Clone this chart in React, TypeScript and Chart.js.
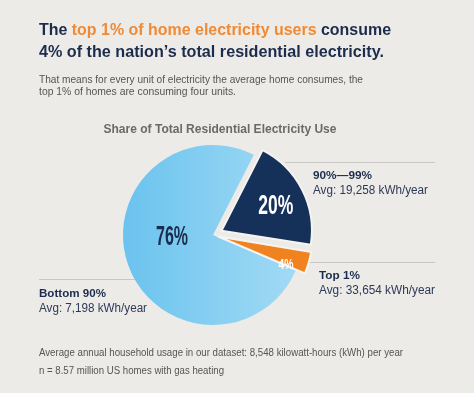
import React, { useEffect, useRef } from 'react';
import { Chart, registerables } from 'chart.js';
Chart.register(...registerables);

// ---- data ----
const categories = ['Bottom 90%', '90%—99%', 'Top 1%'];
const shares = [76, 20, 4];
const averages = ['Avg: 7,198 kWh/year', 'Avg: 19,258 kWh/year', 'Avg: 33,654 kWh/year'];
const pctLabels = ['76%', '20%', '4%'];

const titleLine1 = [
  { t: 'The ', c: 'navy' },
  { t: 'top 1% of home electricity users', c: 'orange' },
  { t: ' consume', c: 'navy' },
];
const titleLine2 = '4% of the nation\u2019s total residential electricity.';
const subtitle = [
  'That means for every unit of electricity the average home consumes, the',
  'top 1% of homes are consuming four units.',
];
const chartTitle = 'Share of Total Residential Electricity Use';
const footnotes = [
  'Average annual household usage in our dataset: 8,548 kilowatt-hours (kWh) per year',
  'n = 8.57 million US homes with gas heating',
];

// ---- styles ----
const BG = '#edebe8';
const NAVY = '#1c2c4d';
const ORANGE = '#ef8a37';
const SLICE_NAVY = '#15315a';
const SLICE_ORANGE = '#f0821f';
const GREY = '#555555';
const FONT = '"Liberation Sans", Arial, sans-serif';
const PIE_R = 90;
// Chart.js shifts an arc by offset/4 * (1 + (1 - sin(circumference)))
const sliceOffsets = [0, 38, 22];
const sliceBorders = [0, 2, 2];
// label anchor for each slice: degrees clockwise from top, distance from center
const pctAnchors = [
  { deg: 270, dist: 41, size: 28, width: 32, color: NAVY },
  { deg: 63.8, dist: 70, size: 28, width: 35, color: '#ffffff' },
  { deg: 111.7, dist: 78.5, size: 14, width: 15, color: '#ffffff' },
];

function fitText(
  ctx: CanvasRenderingContext2D,
  text: string,
  x: number,
  y: number,
  font: string,
  color: string,
  width: number | null,
  align: CanvasTextAlign = 'left'
) {
  ctx.save();
  ctx.font = font;
  ctx.fillStyle = color;
  ctx.textBaseline = 'alphabetic';
  ctx.textAlign = align;
  const w = ctx.measureText(text).width;
  const s = width ? width / w : 1;
  ctx.translate(x, y);
  ctx.scale(s, 1);
  ctx.fillText(text, 0, 0);
  ctx.restore();
}

const decorPlugin = {
  id: 'decor',
  beforeDraw(chart: any) {
    const ctx: CanvasRenderingContext2D = chart.ctx;
    ctx.save();
    ctx.fillStyle = BG;
    ctx.fillRect(0, 0, chart.width, 393);
    ctx.fillStyle = '#ffffff';
    ctx.fillRect(0, 393, chart.width, chart.height - 393);
    ctx.strokeStyle = '#c9c7c4';
    ctx.lineWidth = 1;
    ctx.beginPath();
    ctx.moveTo(285, 162.5);
    ctx.lineTo(435, 162.5);
    ctx.moveTo(308, 262.5);
    ctx.lineTo(435, 262.5);
    ctx.moveTo(39, 279.5);
    ctx.lineTo(200, 279.5);
    ctx.stroke();
    ctx.restore();
  },
  afterDraw(chart: any) {
    const ctx: CanvasRenderingContext2D = chart.ctx;
    // title line 1 (multi-colour)
    const tf = `bold 17px ${FONT}`;
    ctx.save();
    ctx.font = tf;
    const total = titleLine1.reduce((a, s) => a + ctx.measureText(s.t).width, 0);
    const sc = 352 / total;
    ctx.translate(39, 35);
    ctx.scale(sc, 1);
    let cx = 0;
    for (const seg of titleLine1) {
      ctx.fillStyle = seg.c === 'orange' ? ORANGE : NAVY;
      ctx.fillText(seg.t, cx, 0);
      cx += ctx.measureText(seg.t).width;
    }
    ctx.restore();
    fitText(ctx, titleLine2, 39, 57.3, tf, NAVY, 345);

    fitText(ctx, subtitle[0], 39, 83.3, `11px ${FONT}`, GREY, 324);
    fitText(ctx, subtitle[1], 39, 95.3, `11px ${FONT}`, GREY, 197);

    fitText(ctx, chartTitle, 220, 133.3, `bold 13px ${FONT}`, '#6a6a6a', 233, 'center');

    // slice legends
    fitText(ctx, categories[1], 313, 179, `bold 11px ${FONT}`, NAVY, 59);
    fitText(ctx, averages[1], 313, 194.3, `12px ${FONT}`, '#2c3a57', 115);
    fitText(ctx, categories[2], 319, 279.3, `bold 11px ${FONT}`, NAVY, 41);
    fitText(ctx, averages[2], 319, 294, `12px ${FONT}`, '#2c3a57', 116);
    fitText(ctx, categories[0], 39, 297.3, `bold 11px ${FONT}`, NAVY, 67);
    fitText(ctx, averages[0], 39, 311.7, `12px ${FONT}`, '#2c3a57', 108);

    fitText(ctx, footnotes[0], 39, 356, `10px ${FONT}`, GREY, 364);
    fitText(ctx, footnotes[1], 39, 374.3, `10px ${FONT}`, GREY, 185);

    // percent labels inside slices
    const meta = chart.getDatasetMeta(0);
    meta.data.forEach((arc: any, i: number) => {
      const a = pctAnchors[i];
      const rad = (a.deg * Math.PI) / 180;
      const x = arc.x + a.dist * Math.sin(rad);
      const y = arc.y - a.dist * Math.cos(rad);
      fitText(ctx, pctLabels[i], x, y + a.size * 0.358, `bold ${a.size}px ${FONT}`, a.color, a.width, 'center');
    });
  },
};

export default function App() {
  const ref = useRef<HTMLCanvasElement>(null);
  useEffect(() => {
    document.body.style.margin = '0';
    const canvas = ref.current!;
    const chart = new Chart(canvas, {
      type: 'pie',
      data: {
        labels: categories,
        datasets: [
          {
            data: shares,
            backgroundColor: (c: any) => {
              if (c.dataIndex === 1) return SLICE_NAVY;
              if (c.dataIndex === 2) return SLICE_ORANGE;
              const area = c.chart.chartArea;
              if (!area) return '#80cdf2';
              const mid = (area.left + area.right) / 2;
              const g = c.chart.ctx.createLinearGradient(mid - PIE_R, 0, mid + PIE_R, 0);
              g.addColorStop(0, '#6ac3ee');
              g.addColorStop(1, '#a4dbf5');
              return g;
            },
            borderWidth: sliceBorders,
            borderColor: '#f6f4f1',
            borderJoinStyle: 'round',
            offset: sliceOffsets,
            radius: PIE_R,
          } as any,
        ],
      },
      options: {
        responsive: false,
        animation: false,
        rotation: 113.4,
        layout: { padding: { top: 145, bottom: 70, left: 100, right: 148 } },
        plugins: {
          legend: { display: false },
          title: { display: false },
          tooltip: { enabled: false },
        },
      },
      plugins: [decorPlugin],
    });
    return () => chart.destroy();
  }, []);
  return (
    <div style={{ position: 'absolute', left: 0, top: 0, width: 474, height: 395 }}>
      <canvas ref={ref} width={474} height={395} />
    </div>
  );
}
